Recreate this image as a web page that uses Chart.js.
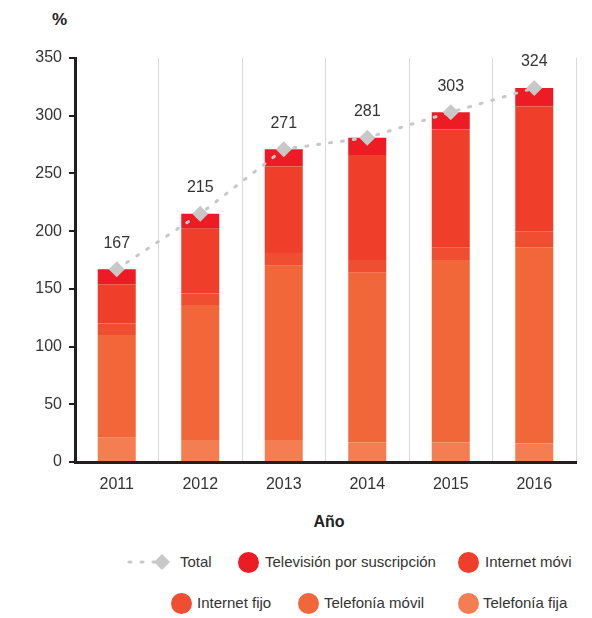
<!DOCTYPE html>
<html lang="es">

<head>
    <meta charset="UTF-8">
    <title>Servicios por año</title>
    <script src="https://cdn.jsdelivr.net/npm/chart.js"></script>
    <style>
        body {
            margin: 0;
            font-family: "Liberation Sans", Arial, sans-serif;
            color: #333;
        }

        #wrap {
            position: relative;
            width: 592px;
            height: 618px;
            background: #fff;
        }

        #box {
            position: absolute;
            left: 0;
            top: 0;
            width: 592px;
            height: 500px;
        }

        .lbl {
            position: absolute;
            font-size: 15px;
            line-height: 18px;
            white-space: nowrap;
            color: #333;
        }

        .dot {
            position: absolute;
            width: 21px;
            height: 21px;
            border-radius: 50%;
        }

        #unit {
            position: absolute;
            left: 52px;
            top: 10px;
            font-size: 17px;
            font-weight: bold;
            color: #222;
        }

        #xtitle {
            position: absolute;
            left: 0;
            width: 658px;
            top: 513px;
            text-align: center;
            font-size: 16px;
            font-weight: bold;
            color: #222;
        }
    </style>
</head>

<body>
    <div id="wrap">
        <div id="unit">%</div>
        <div id="box"><canvas id="mycanvas"></canvas></div>
        <div id="xtitle">Año</div>
        <div id="legend"></div>
    </div>

    <script>
        // data
        var years = ['2011', '2012', '2013', '2014', '2015', '2016'];
        var telFija = [21, 19, 19, 17, 17, 16];
        var telMovil = [89, 117, 151, 147, 158, 170];
        var netFijo = [10, 10, 11, 11, 11, 14];
        var netMovil = [34, 56, 75, 91, 102, 108];
        var tvSusc = [13, 13, 15, 15, 15, 16];
        var total = [167, 215, 271, 281, 303, 324];

        var colTV = '#ED1C24';
        var colNetMovil = '#EF3F2B';
        var colNetFijo = '#F04E31';
        var colTelMovil = '#F2673A';
        var colTelFija = '#F47D51';
        var colTotal = '#C8C8C8';
        var fontFam = '"Liberation Sans", Arial, sans-serif';

        function barSet(label, data, color) {
            return {
                type: 'bar',
                label: label,
                data: data,
                backgroundColor: color,
                stack: 'servicios',
                order: 1,
                categoryPercentage: 0.455,
                barPercentage: 1
            };
        }

        // labels above the total points
        var totalLabels = {
            id: 'totalLabels',
            afterDatasetsDraw: function (chart) {
                var ctx = chart.ctx;
                var meta = chart.getDatasetMeta(5);
                ctx.save();
                ctx.font = '16px ' + fontFam;
                ctx.fillStyle = '#333';
                ctx.textAlign = 'center';
                ctx.textBaseline = 'middle';
                meta.data.forEach(function (pt, i) {
                    ctx.fillText(total[i], pt.x, pt.y - 26);
                });
                ctx.restore();
            }
        };

        var ctx = document.getElementById('mycanvas').getContext('2d');

        new Chart(ctx, {
            data: {
                labels: years,
                datasets: [
                    barSet('Telefonía fija', telFija, colTelFija),
                    barSet('Telefonía móvil', telMovil, colTelMovil),
                    barSet('Internet fijo', netFijo, colNetFijo),
                    barSet('Internet móvi', netMovil, colNetMovil),
                    barSet('Televisión por suscripción', tvSusc, colTV),
                    {
                        type: 'line',
                        label: 'Total',
                        data: total,
                        stack: 'total',
                        order: 0,
                        borderColor: colTotal,
                        borderWidth: 3,
                        borderDash: [2, 10],
                        borderCapStyle: 'round',
                        tension: 0,
                        pointStyle: 'rectRot',
                        pointRadius: 8,
                        pointBorderWidth: 0,
                        pointBackgroundColor: colTotal
                    }
                ]
            },
            options: {
                responsive: true,
                maintainAspectRatio: false,
                animation: false,
                layout: {
                    padding: { top: 58, right: 16, left: 0, bottom: 0 }
                },
                plugins: {
                    legend: { display: false },
                    tooltip: { enabled: false }
                },
                scales: {
                    x: {
                        stacked: true,
                        afterFit: function (scale) { scale.height = 38; },
                        grid: {
                            offset: true,
                            drawTicks: false,
                            color: function (c) {
                                return (c.index === 0 || c.index === years.length) ? 'transparent' : '#D9D9D9';
                            },
                            lineWidth: 1
                        },
                        border: { color: '#231F20', width: 3 },
                        ticks: {
                            color: '#333',
                            padding: 13,
                            font: { size: 16, family: fontFam }
                        }
                    },
                    y: {
                        stacked: true,
                        min: 0,
                        max: 350,
                        afterFit: function (scale) { scale.width = 75; },
                        grid: {
                            drawOnChartArea: false,
                            drawTicks: true,
                            tickLength: 6,
                            color: '#231F20',
                            lineWidth: 2
                        },
                        border: { color: '#231F20', width: 3 },
                        ticks: {
                            stepSize: 50,
                            color: '#333',
                            padding: 7,
                            font: { size: 16, family: fontFam }
                        }
                    }
                }
            },
            plugins: [totalLabels]
        });

        // legend laid out like the original (two rows)
        var legendItems = [
            { text: 'Televisión por suscripción', color: colTV, cx: 248, cy: 562, tx: 265 },
            { text: 'Internet móvi', color: colNetMovil, cx: 468, cy: 562, tx: 485 },
            { text: 'Internet fijo', color: colNetFijo, cx: 181, cy: 603, tx: 197 },
            { text: 'Telefonía móvil', color: colTelMovil, cx: 308, cy: 603, tx: 324 },
            { text: 'Telefonía fija', color: colTelFija, cx: 468, cy: 603, tx: 483 }
        ];
        var legend = document.getElementById('legend');
        var html = '';
        html += '<svg style="position:absolute;left:126px;top:552px" width="46" height="20">' +
            '<line x1="3" y1="10" x2="30" y2="10" stroke="' + colTotal + '" stroke-width="3" stroke-dasharray="2 10" stroke-linecap="round"/>' +
            '<polygon points="36,2 44,10 36,18 28,10" fill="' + colTotal + '"/></svg>';
        html += '<div class="lbl" style="left:180px;top:' + (562 - 9) + 'px">Total</div>';
        legendItems.forEach(function (it) {
            html += '<div class="dot" style="left:' + (it.cx - 10.5) + 'px;top:' + (it.cy - 10.5) + 'px;background:' + it.color + '"></div>';
            html += '<div class="lbl" style="left:' + it.tx + 'px;top:' + (it.cy - 9) + 'px">' + it.text + '</div>';
        });
        legend.innerHTML = html;
    </script>
</body>

</html>
